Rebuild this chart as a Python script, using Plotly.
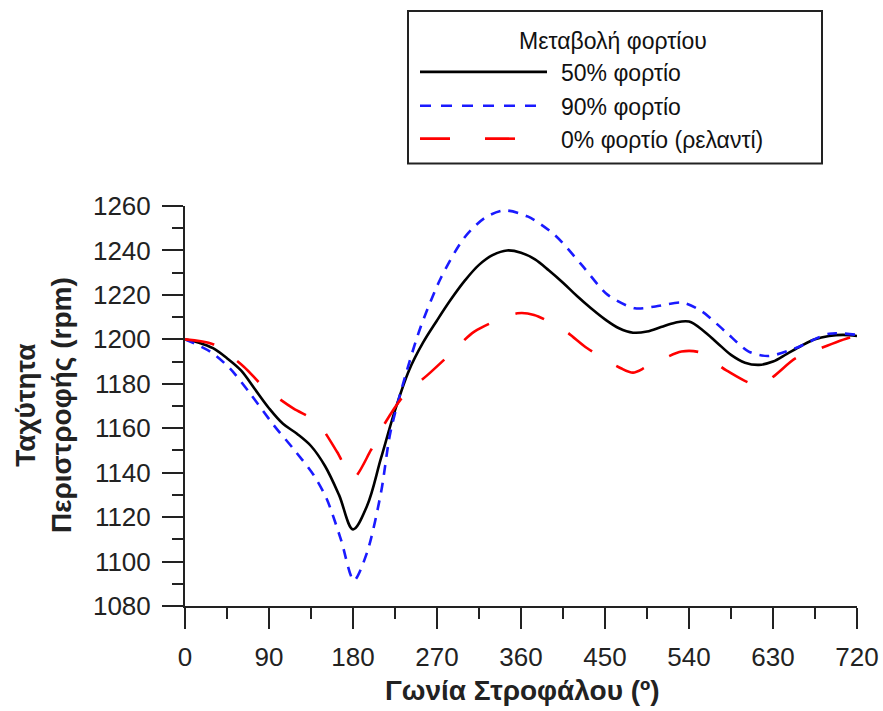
import plotly.graph_objects as go

# ---- data ----
x50 = [0, 15, 30, 45, 60, 75, 90, 105, 120, 135, 150, 165, 180, 195, 210, 225, 240, 255, 270, 285,
       300, 315, 330, 345, 360, 375, 390, 405, 420, 435, 450, 465, 480, 495, 510, 525, 540, 555, 570,
       585, 600, 615, 630, 645, 660, 675, 690, 705, 720]
y50 = [1200, 1198.5, 1196, 1191.5, 1186, 1177.5, 1169, 1162, 1157.5, 1152, 1143, 1130, 1114.5, 1125,
       1146.5, 1168, 1186, 1198.5, 1208.5, 1218, 1226.5, 1233.5, 1238, 1240, 1239, 1236, 1231, 1225.5,
       1219.5, 1214, 1209, 1205, 1203, 1203.5, 1205.5, 1207.5, 1208, 1204, 1198.5, 1193, 1189.5, 1188.5,
       1190, 1193.5, 1197, 1200, 1201.5, 1202, 1201.5]

x90 = [0, 27, 48, 70, 95, 116, 138, 152, 167, 181, 195, 210, 220, 235, 252, 274, 299, 321, 342, 367,
       396, 425, 453, 482, 504, 533, 554, 579, 604, 625, 654, 690, 720]
y90 = [1200, 1194.5, 1187, 1175.5, 1161.4, 1150.8, 1138.8, 1128, 1110, 1091.5, 1104, 1131, 1158, 1182,
       1205, 1227.5, 1245.6, 1254.6, 1258, 1255.3, 1247, 1233.5, 1220, 1214, 1214.8, 1216.5, 1212.5,
       1203.5, 1194.5, 1192.5, 1196, 1202.5, 1202]

x0 = [0, 30, 63, 84, 116, 141, 163, 180, 199, 213, 235, 260, 287, 310, 356, 374, 406, 431, 467, 480,
      495, 532, 553, 580, 615, 654, 675, 715, 720]
y0 = [1200, 1197.8, 1187.7, 1178.7, 1168.9, 1162.9, 1149.3, 1137.5, 1150, 1161.4, 1175, 1184, 1194.5,
      1203.5, 1211.7, 1211, 1204.2, 1196, 1187, 1185, 1187.7, 1194.5, 1194, 1186, 1179.5, 1191.4, 1195,
      1201, 1200.5]

series_names = ["50% φορτίο", "90% φορτίο", "0% φορτίο (ρελαντί)"]
legend_title = "Μεταβολή φορτίου"
x_title = "Γωνία Στροφάλου (º)"
y_title = "Ταχύτητα<br>Περιστροφής (rpm)"
x_ticks = [0, 90, 180, 270, 360, 450, 540, 630, 720]
y_ticks = [1080, 1100, 1120, 1140, 1160, 1180, 1200, 1220, 1240, 1260]

FONT = "Liberation Sans, Arial, sans-serif"
colors = ["#000000", "#1a1aff", "#ff0000"]
dashes = ["solid", "10px,8px", "30px,28px"]
legend_dashes = ["solid", "11px,10px", "30px,35px"]
smooth = [1.0, 0.8, 0.8]

fig = go.Figure()
for xs, ys, c, d, n, s in zip([x50, x90, x0], [y50, y90, y0], colors, dashes, series_names, smooth):
    fig.add_trace(go.Scatter(x=xs, y=ys, mode="lines", name=n,
                             line=dict(color=c, width=2.6, dash=d, shape="spline", smoothing=s),
                             showlegend=False))

W, H = 883, 711
L, R, T, B = 185, 26, 205.5, 104.5
pw, ph = W - L - R, H - T - B


def px(x):
    return (x - L) / pw


def py(y):
    return (H - B - y) / ph


axis_common = dict(showgrid=False, zeroline=False, showline=True, linecolor="#222", linewidth=2,
                   ticks="outside", tickcolor="#222", tickwidth=1.6, ticklen=21,
                   tickfont=dict(family=FONT, size=26, color="#222"))

fig.update_xaxes(range=[0, 720], tickvals=x_ticks, ticklabelstandoff=6,
                 minor=dict(dtick=45, tick0=0, ticks="outside", ticklen=11, tickcolor="#222", tickwidth=1.6),
                 **axis_common)
fig.update_yaxes(range=[1080, 1260], tickvals=y_ticks, ticklabelstandoff=6,
                 minor=dict(dtick=10, tick0=1080, ticks="outside", ticklen=11, tickcolor="#222", tickwidth=1.6),
                 **axis_common)

annotations = [
    dict(text="<b>" + x_title + "</b>", xref="paper", yref="paper", x=px(522), y=py(691),
         xanchor="center", yanchor="middle", showarrow=False, font=dict(family=FONT, size=28, color="#222")),
    dict(text="<b>" + y_title + "</b>", xref="paper", yref="paper", x=px(43), y=py(405),
         xanchor="center", yanchor="middle", textangle=-90, showarrow=False,
         font=dict(family=FONT, size=28, color="#222")),
    dict(text=legend_title, xref="paper", yref="paper", x=px(613), y=py(40),
         xanchor="center", yanchor="middle", showarrow=False, font=dict(family=FONT, size=23, color="#111")),
]
shapes = [dict(type="rect", xref="paper", yref="paper", x0=px(408), x1=px(822), y0=py(163), y1=py(10),
               line=dict(color="#222", width=2), fillcolor="white", layer="above")]

row_y = [71, 105, 138]
row_x1 = [547, 538, 515]
for n, c, d, ry, rx1 in zip(series_names, colors, legend_dashes, row_y, row_x1):
    shapes.append(dict(type="line", xref="paper", yref="paper", x0=px(420), x1=px(rx1), y0=py(ry), y1=py(ry),
                       line=dict(color=c, width=2.6, dash=d), layer="above"))
    annotations.append(dict(text=n, xref="paper", yref="paper", x=px(559), y=py(ry + 1),
                            xanchor="left", yanchor="middle", showarrow=False,
                            font=dict(family=FONT, size=23, color="#111")))

fig.update_layout(width=W, height=H, margin=dict(l=L, r=R, t=T, b=B, autoexpand=False),
                  paper_bgcolor="white", plot_bgcolor="white", showlegend=False,
                  annotations=annotations, shapes=shapes)

fig.write_html("out.html")
